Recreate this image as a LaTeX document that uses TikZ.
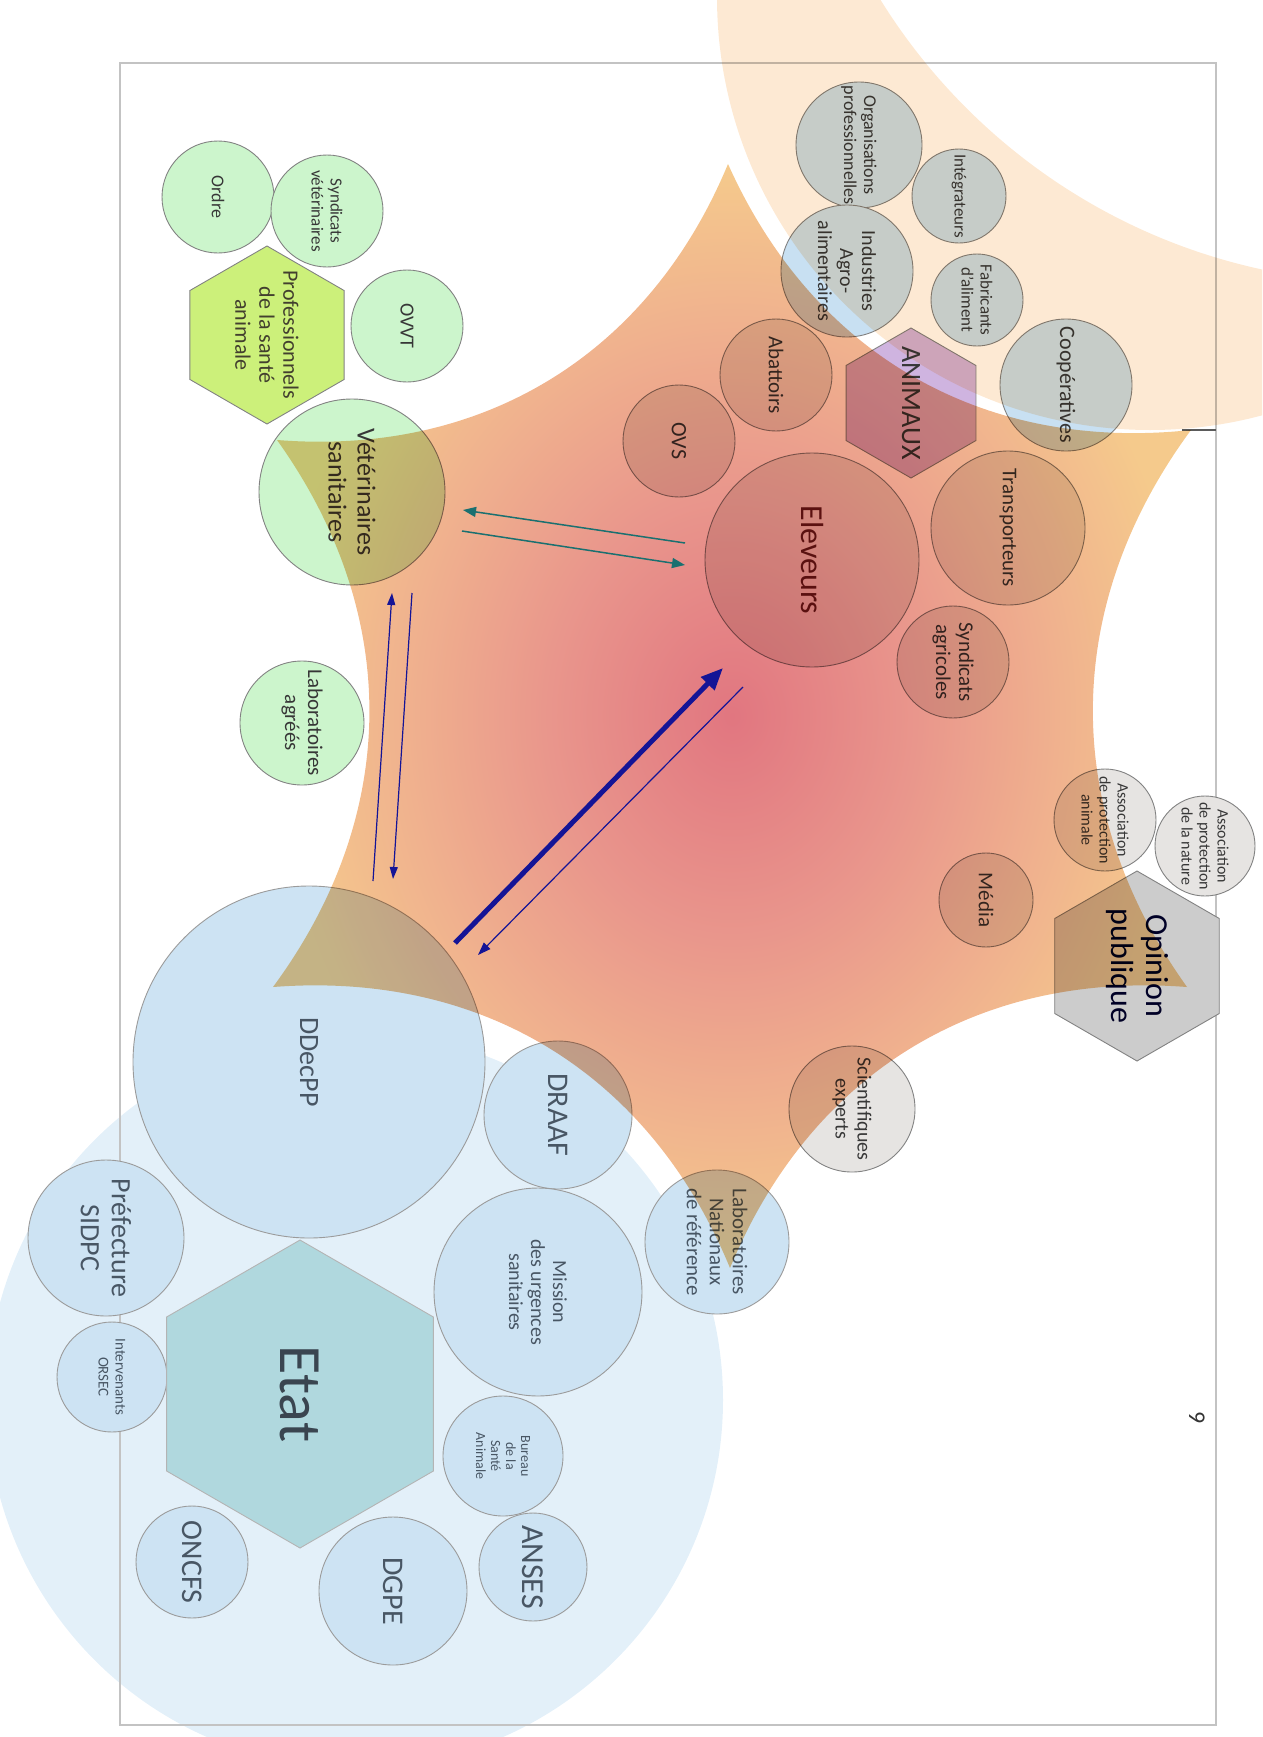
\documentclass[tikz,border=0pt]{standalone}
\usepackage{fontspec}
\setmainfont{Carlito}
\usetikzlibrary{shapes.geometric,arrows.meta,calc}

\definecolor{peach}{RGB}{253,233,211}
\definecolor{bgblue}{RGB}{227,240,249}
\definecolor{cblue}{RGB}{205,227,243}
\definecolor{cpblue}{RGB}{200,224,242}
\definecolor{cgreen}{RGB}{204,245,204}
\definecolor{hgreen}{RGB}{204,240,122}
\definecolor{cgray}{RGB}{230,228,226}
\definecolor{hpurple}{RGB}{207,180,224}
\definecolor{hetat}{RGB}{176,216,222}
\definecolor{hopin}{RGB}{204,204,204}
\definecolor{starA}{RGB}{225,118,128}
\definecolor{starM}{RGB}{233,150,140}
\definecolor{starN}{RGB}{240,178,142}
\definecolor{starB}{RGB}{245,202,140}
\definecolor{arrteal}{RGB}{26,112,112}
\definecolor{arrnavy}{RGB}{20,20,150}
\definecolor{linegray}{RGB}{130,130,130}
\definecolor{framegray}{RGB}{195,195,195}
\definecolor{txtdark}{RGB}{55,55,55}
\definecolor{txtblue}{RGB}{72,86,100}
\definecolor{txtelev}{RGB}{100,30,30}

\pgfdeclareradialshading{starshade}{\pgfpoint{0bp}{0bp}}{color(0bp)=(starA); color(10bp)=(starM); color(18bp)=(starN); color(25bp)=(starB); color(50bp)=(starB)}

\newcommand\fsz[1]{\fontsize{#1}{\numexpr#1*11/10\relax}\selectfont}
\newcommand\bub[7]{%
  \node[#5, minimum size={2*#4pt}] (#1) at (#2,#3) {};
  \node[#5t, rotate=-90, align=center, inner sep=0pt, font=\fsz{#6}] (#1-t) at (#1.center) {#7};}

\begin{document}
\begin{tikzpicture}[x=1pt,y=-1pt,
  gbub/.style={circle, draw=linegray, fill=cgreen, line width=0.9pt, inner sep=0pt},
  gbubt/.style={text=txtdark},
  pbub/.style={circle, draw=linegray, fill=cpblue, line width=0.9pt, inner sep=0pt},
  pbubt/.style={text=txtdark},
  sbub/.style={circle, draw=linegray, fill=cgray, line width=0.9pt, inner sep=0pt},
  sbubt/.style={text=txtdark},
  bbub/.style={circle, draw=linegray!80, fill=cblue, line width=0.9pt, inner sep=0pt},
  bbubt/.style={text=txtblue},
  hexs/.style={regular polygon, regular polygon sides=6, draw=linegray, line width=0.9pt, inner sep=0pt, rotate=90},
  hext/.style={rotate=-90, align=center, inner sep=0pt},
  tealarr/.style={draw=arrteal, line width=1.5pt, -{Triangle[length=13pt,width=10pt]}},
  navyarr/.style={draw=arrnavy, line width=1.2pt, -{Triangle[length=12pt,width=8pt]}},
  bigarr/.style={draw=arrnavy, line width=5pt, -{Triangle[length=22pt,width=18pt]}},
  thinarr/.style={draw=arrnavy, line width=1.2pt, -{Triangle[length=13pt,width=9pt]}}
]
\useasboundingbox (0,0) rectangle (1262,1737);

% big light-blue disc
\fill[bgblue] (355,1400) circle[radius=368pt];

% frame
\draw[framegray, line width=1.2pt] (120,63) rectangle (1216,1725);
\draw[linegray!70!black, line width=1.6pt] (1182,430) -- (1216,430);

% green group
\bub{ordre}{218}{197}{56}{gbub}{18}{Ordre}
\bub{synvet}{327}{211}{56}{gbub}{17}{Syndicats\\vétérinaires}
\bub{ovvt}{407}{326}{56}{gbub}{20}{OVVT}
\bub{vet}{352}{492}{93}{gbub}{26}{Vétérinaires\\sanitaires}
\bub{labag}{302}{723}{62}{gbub}{21}{Laboratoires\\agréés}
\node[hexs, fill=hgreen, minimum size={2*89pt}] (psa) at (267,335) {};
\node[hext, font=\fsz{22}, text=black!70!olive] (psa-t) at (psa.center) {Professionnels\\de la santé\\animale};

% industry group
\bub{orgpro}{859}{145}{63}{pbub}{18}{Organisations\\professionnelles}
\bub{integ}{959}{196}{47}{pbub}{17}{Intégrateurs}
\bub{indus}{847}{271}{66}{pbub}{20}{Industries\\Agro-\\alimentaires}
\bub{fabri}{977}{300}{46}{pbub}{17}{Fabricants\\d'aliment}
\bub{coop}{1066}{385}{66}{pbub}{22}{Coopératives}

% farm group
\bub{abat}{776}{375}{56}{sbub}{21}{Abattoirs}
\bub{ovs}{679}{441}{56}{sbub}{22}{OVS}
\bub{elev}{812}{560}{107}{sbub}{32}{\color{txtelev}Eleveurs}
\bub{transp}{1008}{528}{77}{sbub}{21}{Transporteurs}
\bub{synagr}{953}{662}{56}{sbub}{21}{Syndicats\\agricoles}
\bub{media}{986}{900}{47}{sbub}{21}{Média}
\bub{assoa}{1105}{820}{51}{sbub}{16}{Association\\de protection\\animale}
\bub{asson}{1205}{846}{50}{sbub}{16}{Association\\de protection\\de la nature}
\bub{scien}{852}{1109}{63}{sbub}{20}{Scientifiques\\experts}
\node[hexs, fill=hpurple, minimum size={2*75pt}] (anim) at (911,403) {};
\node[hext, font=\fsz{28}, text=txtdark] (anim-t) at (anim.center) {ANIMAUX};
\node[hexs, fill=hopin, minimum size={2*95pt}] (opin) at (1137,966) {};
\node[hext, font=\fsz{32}, text=black!85!blue] (opin-t) at (opin.center) {Opinion\\publique};

% state group
\bub{labnat}{717}{1242}{72}{bbub}{21}{Laboratoires\\Nationaux\\de référence}
\bub{ddecpp}{309}{1062}{176}{bbub}{28}{DDecPP}
\bub{draaf}{558}{1115}{74}{bbub}{30}{DRAAF}
\bub{mus}{538}{1292}{104}{bbub}{20}{Mission\\des urgences\\sanitaires}
\bub{pref}{106}{1238}{78}{bbub}{28}{Préfecture\\SIDPC}
\bub{orsec}{112}{1377}{55}{bbub}{15}{Intervenants\\ORSEC}
\bub{bsa}{503}{1456}{60}{bbub}{14}{Bureau\\de la\\Santé\\Animale}
\bub{anses}{533}{1567}{54}{bbub}{32}{ANSES}
\bub{dgpe}{393}{1591}{74}{bbub}{30}{DGPE}
\bub{oncfs}{192}{1562}{56}{bbub}{30}{ONCFS}
\node[hexs, fill=hetat, draw=linegray!60, minimum size={2*154pt}] (etat) at (300,1394) {};
\node[hext, font=\fsz{60}, text=txtblue!80!black] (etat-t) at (etat.center) {Etat};

% translucent overlays: peach band and star
\coordinate (T1) at (728,164);
\coordinate (T2) at (1191,430);
\coordinate (T3) at (1187,987);
\coordinate (T4) at (730,1268);
\coordinate (T5) at (273,987);
\coordinate (T6) at (277,440);
\begin{scope}[blend mode=multiply]
  \begin{scope}
    \clip (0,0) rectangle (1262,1737);
    \fill[peach, even odd rule] (1150,-3) circle[radius=433pt] (1389,-315) circle[radius=598pt];
  \end{scope}
  \shade[shading=starshade] (T1) to[bend right=36] (T2) to[bend right=36] (T3) to[bend right=36] (T4)
     to[bend right=36] (T5) to[bend right=36] (T6) to[bend right=36] (T1) -- cycle;
\end{scope}

% arrows
\coordinate (a1s) at (685,543); \coordinate (a1e) at (463,510);
\coordinate (a2s) at (462,531); \coordinate (a2e) at (685,565);
\draw[tealarr] (a1s) -- (a1e);
\draw[tealarr] (a2s) -- (a2e);
\coordinate (b1s) at (373,881); \coordinate (b1e) at (392,593);
\coordinate (b2s) at (412,593); \coordinate (b2e) at (393,879);
\draw[navyarr] (b1s) -- (b1e);
\draw[navyarr] (b2s) -- (b2e);
\coordinate (c1s) at (455,943); \coordinate (c1e) at (723,668);
\coordinate (c2s) at (743,687); \coordinate (c2e) at (478,955);
\draw[bigarr] (c1s) -- (c1e);
\draw[thinarr] (c2s) -- (c2e);

% page number
\node[rotate=-90, font=\fsz{24}, text=black!80] (pnum) at (1197,1418) {9};
\end{tikzpicture}
\end{document}
